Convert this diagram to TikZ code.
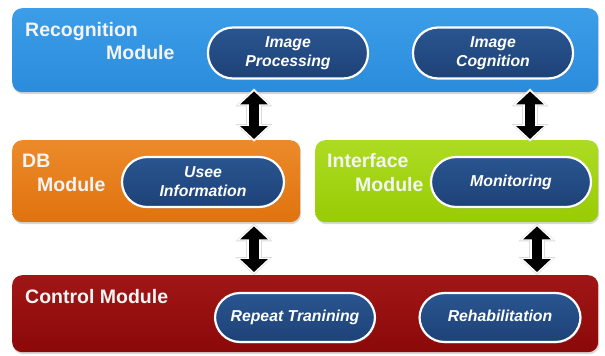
\documentclass[tikz,border=0pt]{standalone}
\usepackage{fontspec}
\setmainfont{Liberation Sans}
\usetikzlibrary{arrows.meta,shadows}
\definecolor{recogC}{HTML}{2A8CDC}
\definecolor{recogT}{HTML}{3C9DE8}
\definecolor{dbC}{HTML}{E0730E}
\definecolor{dbT}{HTML}{EC8A2A}
\definecolor{ifC}{HTML}{98CC04}
\definecolor{ifT}{HTML}{ADDB22}
\definecolor{ctlC}{HTML}{8C0909}
\definecolor{ctlT}{HTML}{A01616}
\definecolor{pillC}{HTML}{1D4277}
\definecolor{pillT}{HTML}{2A5590}
\definecolor{labC}{HTML}{F4F4F4}
\tikzset{
  modbox/.style={rectangle, rounded corners=10pt, inner sep=0pt, anchor=north west,
    drop shadow={shadow xshift=1pt, shadow yshift=-2pt, opacity=0.3}},
  pillbox/.style={rectangle, rounded corners=25pt, draw=white, line width=2.2pt,
    top color=pillT, bottom color=pillC, text=white, align=center,
    font=\bfseries\itshape\fontsize{15.8}{19}\selectfont, inner sep=0pt,
    drop shadow={shadow xshift=1pt, shadow yshift=-1.5pt, opacity=0.35}},
  modlabel/.style={anchor=base west, inner sep=0pt, text=labC,
    font=\bfseries\fontsize{19.5}{22}\selectfont},
  arrhalo/.style={draw=black!14, line width=16pt, shorten <=-3pt, shorten >=-3pt,
    {Triangle[width=36pt,length=18pt]}-{Triangle[width=36pt,length=18pt]}},
  arrwhite/.style={draw=white, line width=14pt, shorten <=-2pt, shorten >=-2pt,
    {Triangle[width=33pt,length=16pt]}-{Triangle[width=33pt,length=16pt]}},
  arrblack/.style={draw=black, line width=10.5pt,
    {Triangle[width=27pt,length=13pt]}-{Triangle[width=27pt,length=13pt]}},
}
\begin{document}
\begin{tikzpicture}[x=1pt,y=-1pt]
\useasboundingbox[fill=white] (0,0) rectangle (605,356);
% module boxes
\node[modbox, top color=recogT, bottom color=recogC, minimum width=586pt, minimum height=84pt] (recog) at (12,8) {};
\node[modbox, top color=dbT, bottom color=dbC, minimum width=288pt, minimum height=82pt] (db) at (12,140) {};
\node[modbox, top color=ifT, bottom color=ifC, minimum width=283pt, minimum height=82pt] (iface) at (315,140) {};
\node[modbox, top color=ctlT, bottom color=ctlC, minimum width=586pt, minimum height=77pt] (ctl) at (12,275) {};
% module labels
\node[modlabel] (lrecog1) at (25,36) {Recognition};
\node[modlabel] (lrecog2) at (106,59) {Module};
\node[modlabel] (ldb1) at (22,167) {DB};
\node[modlabel] (ldb2) at (37,191) {Module};
\node[modlabel] (lif1) at (327,167) {Interface};
\node[modlabel] (lif2) at (355,191) {Module};
\node[modlabel] (lctl) at (25,303) {Control Module};
% pills
\node[pillbox, minimum width=160pt, minimum height=51pt] (ip) at (288,53) {Image\\Processing};
\node[pillbox, minimum width=160pt, minimum height=51pt] (ic) at (493,53) {Image\\Cognition};
\node[pillbox, minimum width=162pt, minimum height=50pt] (ui) at (203,182) {Usee\\Information};
\node[pillbox, minimum width=160pt, minimum height=50pt] (mon) at (511,182) {Monitoring};
\node[pillbox, minimum width=160pt, minimum height=49pt] (rt) at (295,317.5) {Repeat Tranining};
\node[pillbox, minimum width=161pt, minimum height=49pt] (reh) at (500,317.5) {\vphantom{pg}Rehabilitation};
% arrow columns
\coordinate (c1) at (254,0);
\coordinate (c2) at (530,0);
\coordinate (c3) at (254,0);
\coordinate (c4) at (537,0);
\foreach \s in {arrhalo,arrwhite,arrblack}{
  \draw[\s] ([yshift=1pt]recog.south -| c1) -- ([yshift=1pt]db.north -| c1);
  \draw[\s] ([yshift=1pt]recog.south -| c2) -- ([yshift=1pt]iface.north -| c2);
  \draw[\s] ([yshift=-4pt]db.south -| c3) -- ([yshift=3pt]ctl.north -| c3);
  \draw[\s] ([yshift=-4pt]iface.south -| c4) -- ([yshift=3pt]ctl.north -| c4);
}
\end{tikzpicture}
\end{document}
